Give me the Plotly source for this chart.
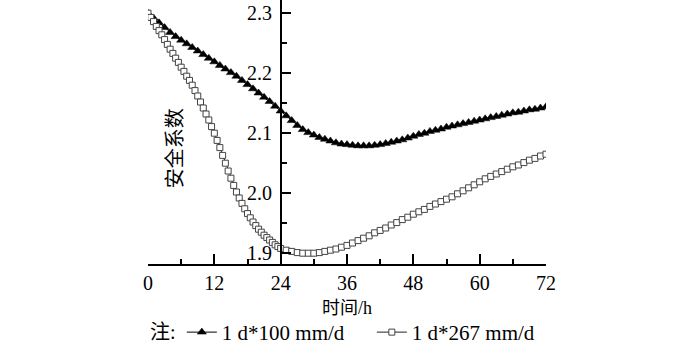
import plotly.graph_objects as go

# Time axis (h) and safety factor for the two rainfall cases
t_100 = list(range(0, 73))
fs_100 = [
    2.300, 2.292, 2.284, 2.276, 2.268, 2.261, 2.255, 2.249, 2.243, 2.237,
    2.231, 2.225, 2.219, 2.213, 2.207, 2.201, 2.195, 2.188, 2.181, 2.174,
    2.167, 2.160, 2.153, 2.145, 2.137, 2.129, 2.121, 2.113, 2.106, 2.101,
    2.097, 2.093, 2.090, 2.087, 2.084, 2.082, 2.081, 2.080, 2.079, 2.079,
    2.079, 2.080, 2.081, 2.083, 2.085, 2.087, 2.089, 2.092, 2.095, 2.098,
    2.100, 2.103, 2.105, 2.107, 2.110, 2.112, 2.114, 2.116, 2.118, 2.120,
    2.122, 2.124, 2.126, 2.128, 2.130, 2.132, 2.134, 2.135, 2.137, 2.139,
    2.140, 2.142, 2.144,
]

t_267 = [i * 0.5 for i in range(0, 49)] + list(range(25, 73))
fs_267 = [
    2.300, 2.293, 2.286, 2.278, 2.271, 2.264, 2.256, 2.248, 2.240, 2.233,
    2.225, 2.218, 2.210, 2.203, 2.195, 2.188, 2.180, 2.171, 2.162, 2.152,
    2.142, 2.132, 2.122, 2.111, 2.100, 2.088, 2.076, 2.063, 2.050, 2.037,
    2.025, 2.013, 2.002, 1.992, 1.983, 1.974, 1.966, 1.959, 1.952, 1.946,
    1.940, 1.935, 1.930, 1.926, 1.922, 1.918, 1.914, 1.911, 1.908,
    1.905, 1.903, 1.901, 1.900, 1.900, 1.900, 1.901, 1.903, 1.905, 1.907,
    1.910, 1.913, 1.917, 1.921, 1.925, 1.929, 1.934, 1.938, 1.942, 1.947,
    1.951, 1.956, 1.960, 1.965, 1.969, 1.973, 1.978, 1.982, 1.986, 1.990,
    1.994, 1.999, 2.004, 2.009, 2.014, 2.019, 2.024, 2.028, 2.032, 2.036,
    2.040, 2.044, 2.047, 2.051, 2.055, 2.058, 2.062, 2.065,
]

x_ticks = [0, 12, 24, 36, 48, 60, 72]
y_ticks = [1.9, 2.0, 2.1, 2.2, 2.3]
y_tick_text = ["1.9", "2.0", "2.1", "2.2", "2.3"]

series_names = ["1 d*100 mm/d", "1 d*267 mm/d"]

FONT = "Liberation Serif, Times New Roman, Noto Sans CJK SC, serif"
FS = 20

fig = go.Figure()
fig.add_trace(go.Scatter(
    x=t_100, y=fs_100, name=series_names[0], mode="lines+markers",
    line=dict(color="black", width=1),
    marker=dict(symbol="triangle-up", size=8, color="black",
                line=dict(color="black", width=0.5)),
))
fig.add_trace(go.Scatter(
    x=t_267, y=fs_267, name=series_names[1], mode="lines+markers",
    line=dict(color="#222222", width=1),
    marker=dict(symbol="square", size=6, color="white",
                line=dict(color="#444444", width=1)),
))

fig.update_layout(
    width=700, height=346,
    margin=dict(l=148, r=154, t=0, b=82, autoexpand=False),
    paper_bgcolor="white", plot_bgcolor="white",
    font=dict(family=FONT, size=FS, color="black"),
    showlegend=True,
    legend=dict(
        orientation="h", x=0.085, xanchor="left",
        y=-0.337, yanchor="bottom",
        font=dict(family=FONT, size=21, color="black"),
        entrywidth=145, entrywidthmode="pixels",
        itemwidth=30, tracegroupgap=0, bgcolor="rgba(0,0,0,0)",
    ),
    xaxis=dict(
        range=[0, 72], tickvals=x_ticks, ticktext=[str(v) for v in x_ticks],
        showline=True, linecolor="black", linewidth=1.5,
        ticks="inside", ticklen=10, tickwidth=1.5, tickcolor="black",
        minor=dict(dtick=6, ticks="inside", ticklen=5, tickwidth=1.5,
                   tickcolor="black", showgrid=False),
        showgrid=False, zeroline=False,
        tickfont=dict(family=FONT, size=FS),
        title=dict(text="时间/h", font=dict(family=FONT, size=18), standoff=9),
    ),
    yaxis=dict(
        range=[1.882, 2.322], tickvals=y_ticks, ticktext=y_tick_text,
        anchor="free", position=24 / 72, side="left",
        showline=True, linecolor="black", linewidth=1.5,
        ticks="inside", ticklen=10, tickwidth=1.5, tickcolor="black",
        ticklabelstandoff=4,
        minor=dict(dtick=0.05, tick0=1.9, ticks="inside", ticklen=6,
                   tickwidth=1.5, tickcolor="black", showgrid=False),
        showgrid=False, zeroline=False,
        tickfont=dict(family=FONT, size=FS),
    ),
)

fig.add_annotation(
    text="安全系数", textangle=-90, xref="paper", yref="paper",
    x=0.036, y=0.44, showarrow=False,
    font=dict(family=FONT, size=20, color="black"),
)
fig.add_annotation(
    text="注:", xref="paper", yref="paper", x=0.0, y=-0.2576,
    xanchor="left", yanchor="middle", showarrow=False,
    font=dict(family=FONT, size=20, color="black"),
)

fig.write_html("out.html")
